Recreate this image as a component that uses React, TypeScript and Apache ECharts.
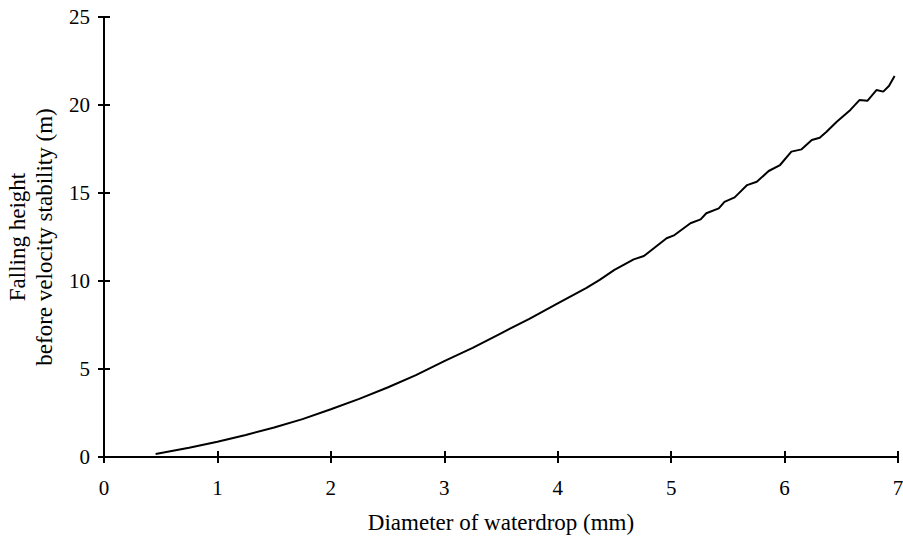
import React, { useEffect, useRef } from "react";
import * as echarts from "echarts";

const diameters = [
  0.455, 0.75, 1.0, 1.25, 1.5, 1.75, 2.0, 2.25, 2.5, 2.75, 3.0, 3.25, 3.5, 3.75,
  4.0, 4.25, 4.37, 4.5, 4.67, 4.76, 4.96, 5.03, 5.17, 5.26, 5.31, 5.42, 5.47,
  5.56, 5.67, 5.755, 5.86, 5.96, 6.06, 6.15, 6.24, 6.31, 6.37, 6.46, 6.58, 6.66,
  6.73, 6.81, 6.87, 6.92, 6.97,
];
const heights = [
  0.17, 0.52, 0.87, 1.25, 1.68, 2.15, 2.71, 3.3, 3.95, 4.65, 5.45, 6.2, 7.03, 7.85,
  8.73, 9.6, 10.06, 10.63, 11.23, 11.42, 12.43, 12.61, 13.28, 13.5, 13.85, 14.13, 14.5,
  14.75, 15.45, 15.64, 16.25, 16.59, 17.35, 17.48, 18.01, 18.14, 18.48, 19.05, 19.72, 20.28,
  20.24, 20.85, 20.76, 21.08, 21.65,
];

const xName = "Diameter of waterdrop (mm)";
const yName = "Falling height\nbefore velocity stability (m)";

export default function App() {
  const ref = useRef<HTMLDivElement>(null);
  useEffect(() => {
    if (!ref.current) return;
    const chart = echarts.init(ref.current, null, { renderer: "svg" });
    const font = "Liberation Serif";
    const line = { show: true, lineStyle: { color: "#000", width: 2 } };
    const tick = { color: "#000", width: 2 };
    chart.setOption({
      animation: false,
      textStyle: { fontFamily: font },
      grid: { left: 104, right: 5, top: 17, bottom: 81, outerBoundsMode: "none", containLabel: false },
      xAxis: [
        {
          type: "value", min: 0, max: 7, interval: 1,
          axisLine: line,
          axisTick: { show: true, length: 6, lineStyle: tick },
          axisLabel: { color: "#000", fontSize: 21, fontFamily: font, margin: 20 },
          splitLine: { show: false },
          name: xName, nameLocation: "middle", nameGap: 54,
          nameTextStyle: { color: "#000", fontSize: 23, fontFamily: font },
        },
        {
          type: "value", min: 0, max: 7, interval: 1, position: "bottom",
          axisLine: { show: false },
          axisTick: { show: true, inside: true, length: 6, lineStyle: tick },
          axisLabel: { show: false }, splitLine: { show: false },
        },
      ],
      yAxis: [
        {
          type: "value", min: 0, max: 25, interval: 5,
          axisLine: line,
          axisTick: { show: true, length: 6, lineStyle: tick },
          axisLabel: { color: "#000", fontSize: 21, fontFamily: font, margin: 14 },
          splitLine: { show: false },
          name: yName, nameLocation: "middle", nameGap: 46, nameRotate: 90,
          nameTextStyle: { color: "#000", fontSize: 23, fontFamily: font, lineHeight: 27 },
        },
        {
          type: "value", min: 0, max: 25, interval: 5, position: "left",
          axisLine: { show: false },
          axisTick: { show: true, inside: true, length: 6, lineStyle: tick },
          axisLabel: { show: false }, splitLine: { show: false },
        },
      ],
      series: [
        {
          type: "line",
          data: diameters.map((d, i) => [d, heights[i]]),
          showSymbol: false,
          lineStyle: { color: "#000", width: 2 },
        },
      ],
    });
    return () => chart.dispose();
  }, []);
  return <div ref={ref} style={{ width: 903, height: 538, position: "absolute", left: 0, top: 0 }} />;
}
